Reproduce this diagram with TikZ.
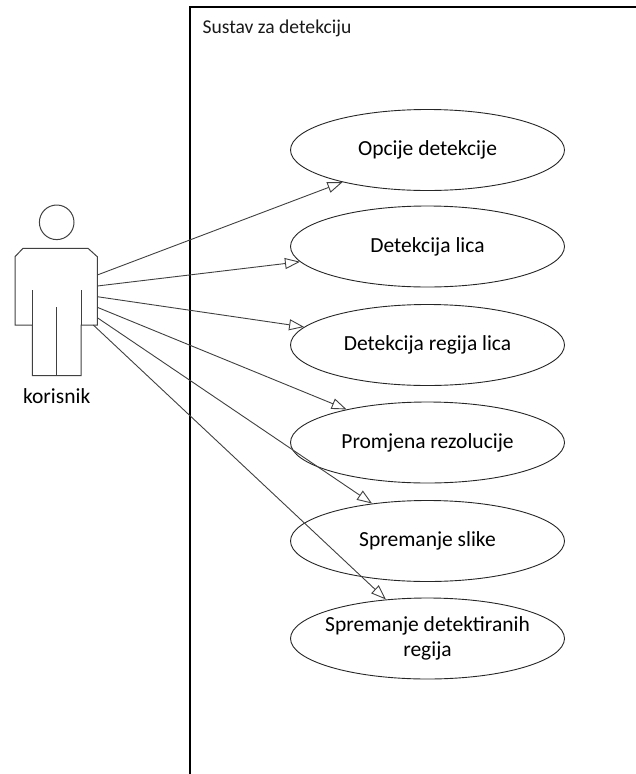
\documentclass[tikz,border=0pt]{standalone}
\usepackage{fontspec}
\setmainfont{Carlito}
\usetikzlibrary{shapes.geometric,arrows.meta}
\begin{document}
\begin{tikzpicture}[x=1pt,y=-1pt,
  usecase/.style={draw=black!85,line width=0.9pt,ellipse,minimum width=274pt,minimum height=81pt,inner sep=0pt,align=center,font=\fontsize{21.5}{25}\selectfont},
  assoc/.style={draw=black!75,line width=0.9pt,-{Triangle[open,length=15pt,width=11pt,fill=white]}},
  actorline/.style={draw=black!75,line width=1pt}]
\useasboundingbox (0,0) rectangle (636,774);
% system boundary
\coordinate (sysbl) at (190,776);
\coordinate (systl) at (190,7);
\coordinate (systr) at (638,7);
\draw[line width=1.2pt] (sysbl) -- (systl) -- (systr);
\node[anchor=west,font=\fontsize{19.6}{22}\selectfont,text=black!90] (title) at (199,28) {Sustav za detekciju};
% use cases
\node[usecase] (u1) at (427.5,150) {Opcije detekcije};
\node[usecase] (u2) at (427.5,246.5) {Detekcija lica};
\node[usecase] (u3) at (427.5,345) {Detekcija regija lica};
\node[usecase] (u4) at (427.5,442.5) {Promjena rezolucije};
\node[usecase] (u5) at (427.5,541) {Spremanje slike};
\node[usecase,inner xsep=-30pt,inner ysep=-8pt] (u6) at (427.5,638.5) {Spremanje detektiranih\\regija};
% actor
\node[circle,draw=black!75,line width=1pt,minimum size=34.6pt,inner sep=0pt] (head) at (56.7,222.3) {};
\draw[actorline] (23,248.3) -- (88,248.3) -- (97.3,256.7) -- (97.3,325) -- (81,325) -- (81,375.7)
  -- (32.3,375.7) -- (32.3,325) -- (15,325) -- (15,256.7) -- cycle;
\draw[actorline] (32.3,290) -- (32.3,325);
\draw[actorline] (81,290) -- (81,325);
\draw[actorline] (56.7,307.3) -- (56.7,375.7);
\node[font=\fontsize{21.5}{25}\selectfont] (actorlabel) at (56.7,396) {korisnik};
% connector start points
\coordinate (s1) at (97.3,275);
\coordinate (s2) at (97.3,286);
\coordinate (s3) at (97.3,296.7);
\coordinate (s4) at (97.3,307.3);
\coordinate (s5) at (97.3,317.7);
\coordinate (s6) at (93.3,325);
\draw[assoc] (s1) -- (u1);
\draw[assoc] (s2) -- (u2);
\draw[assoc] (s3) -- (u3);
\draw[assoc] (s4) -- (u4);
\draw[assoc] (s5) -- (u5);
\draw[assoc] (s6) -- (u6);
\end{tikzpicture}
\end{document}
